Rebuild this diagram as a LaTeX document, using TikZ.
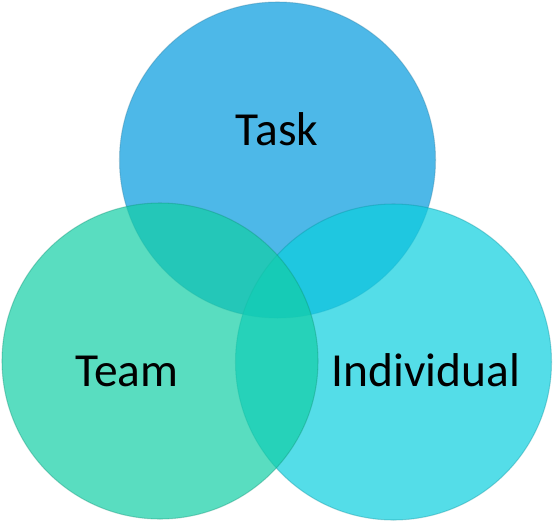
\documentclass[tikz,border=0pt]{standalone}
\usepackage{fontspec}
\setmainfont{Carlito}
\usepackage{tikz}
\definecolor{taskblue}{HTML}{4DB8E8}
\definecolor{indivcyan}{HTML}{0CCEDE}
\definecolor{teamgreen}{HTML}{13CEA5}
\tikzset{ring/.style={line width=0.6pt, draw opacity=0.35}, lbl/.style={anchor=base, font=\fontsize{27}{31}\selectfont}}

\begin{document}
\begin{tikzpicture}[x=0.02cm, y=-0.02cm]
				\useasboundingbox (0, 0) rectangle (554, 524);
				
				\draw[ring, fill=taskblue, draw=taskblue!70!black] (277.5, 160) circle (158);
				\draw[ring, fill=indivcyan, fill opacity=0.7, draw=indivcyan!70!black] (393.5, 362) circle (158);
				\draw[ring, fill=teamgreen, fill opacity=0.7, draw=teamgreen!70!black] (160, 361) circle (158);
				
				\node[lbl] (task) at (277, 145) {Task};
				\node[lbl] (team) at (127, 386) {Team};
				\node[lbl] (individual) at (426, 386) {Individual};
			\end{tikzpicture}
\end{document}
